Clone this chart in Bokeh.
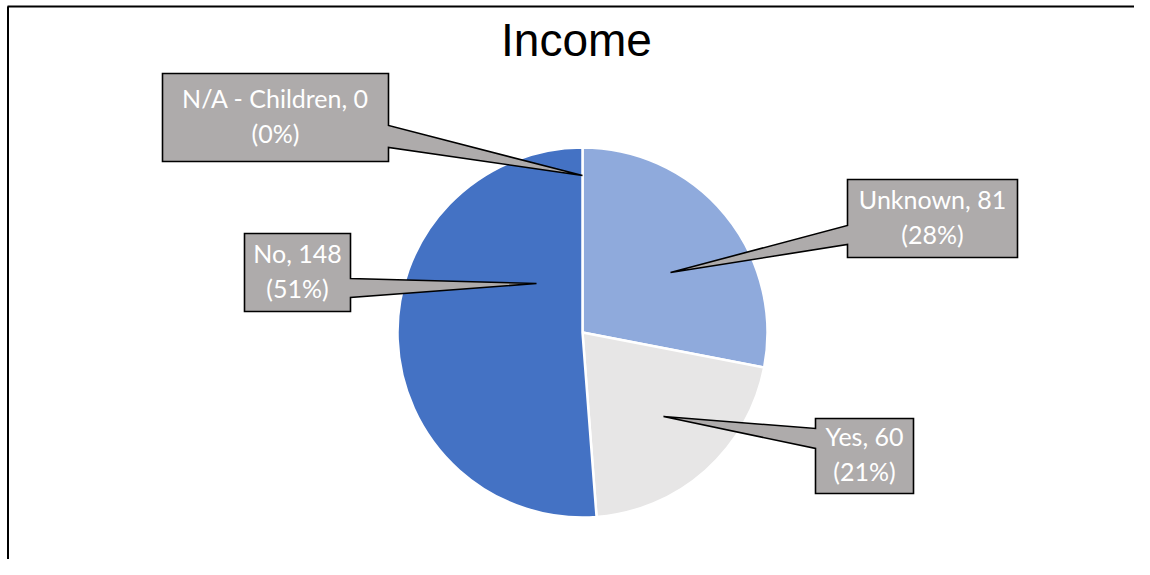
import math
from bokeh.plotting import figure
from bokeh.models import Range1d, ColumnDataSource
from bokeh.core.properties import value
from bokeh.embed import file_html
from bokeh.resources import INLINE

# ---- data ----
categories = ["Unknown", "Yes", "No", "N/A - Children"]
counts = [81, 60, 148, 0]
colors = ["#8FAADC", "#E7E6E6", "#4472C4", "#A5A5A5"]
title_text = "Income"

# ---- layout (screen pixel coordinates) ----
W, H = 1134, 559
def px(X):
    return X
def py(Y):
    return H - Y

pie_center = (582, 332)
pie_radius = 185

# callout boxes: (left, top, right, bottom, side, attach_y1, attach_y2, tip)
callouts = {
    "Unknown": (847, 179, 1017, 257, "left", 225, 244, (670, 272)),
    "Yes": (815, 418, 913, 493, "left", 428, 448, (663, 416)),
    "No": (244, 233, 350, 311, "right", 278, 297, (536, 283)),
    "N/A - Children": (162, 73, 388, 161, "right", 125, 147, (582, 175)),
}

p = figure(width=W, height=H, output_backend="svg", toolbar_location=None,
           x_range=Range1d(0, W), y_range=Range1d(0, H), min_border=0)
p.axis.visible = False
p.grid.visible = False
p.outline_line_color = None
p.background_fill_color = "white"
p.border_fill_color = "white"

# frame (left and top edges)
p.line(x=[px(7.5), px(7.5)], y=[py(6), 0], line_color="black", line_width=2)
p.line(x=[px(7), W], y=[py(6), py(6)], line_color="black", line_width=2)

# title
p.text(x=[px(576)], y=[py(57 - 18)], text=[title_text], text_align="center",
       text_baseline="alphabetic", text_font=value("Liberation Sans"),
       text_font_size="46px", text_color="black")

# pie wedges
total = sum(counts)
starts, ends, wc, wcat = [], [], [], []
acc = 0.0
for cat, c, col in zip(categories, counts, colors):
    a0 = math.pi / 2 - 2 * math.pi * acc / total
    acc += c
    a1 = math.pi / 2 - 2 * math.pi * acc / total
    if c > 0:
        starts.append(a0)
        ends.append(a1)
        wc.append(col)
        wcat.append(cat)
src = ColumnDataSource(dict(start=starts, end=ends, color=wc, cat=wcat))
p.wedge(x=px(pie_center[0]), y=py(pie_center[1]), radius=pie_radius,
        start_angle="start", end_angle="end", direction="clock",
        fill_color="color", line_color="white", line_width=2.5, source=src)

# callouts
for cat, c in zip(categories, counts):
    L, T, R, B, side, a1, a2, tip = callouts[cat]
    if side == "left":
        xs = [L, R, R, L, L, tip[0], L]
        ys = [T, T, B, B, a2, tip[1], a1]
    else:
        xs = [L, R, R, tip[0], R, R, L]
        ys = [T, T, a1, tip[1], a2, B, B]
    p.patch(x=[px(v) for v in xs], y=[py(v) for v in ys],
            fill_color="#AEABAB", line_color="black", line_width=1.6,
            line_join="miter")
    pct = round(100 * c / total)
    cx = (L + R) / 2
    cy = (T + B) / 2
    p.text(x=[px(cx), px(cx)], y=[py(cy - 9 - 11), py(cy + 26 - 11)],
           text=[f"{cat}, {c}", f"({pct}%)"], text_align="center",
           text_baseline="alphabetic", text_font=value("Lato"),
           text_font_size="25px", text_color="white")

open("out.html", "w").write(file_html(p, INLINE))
